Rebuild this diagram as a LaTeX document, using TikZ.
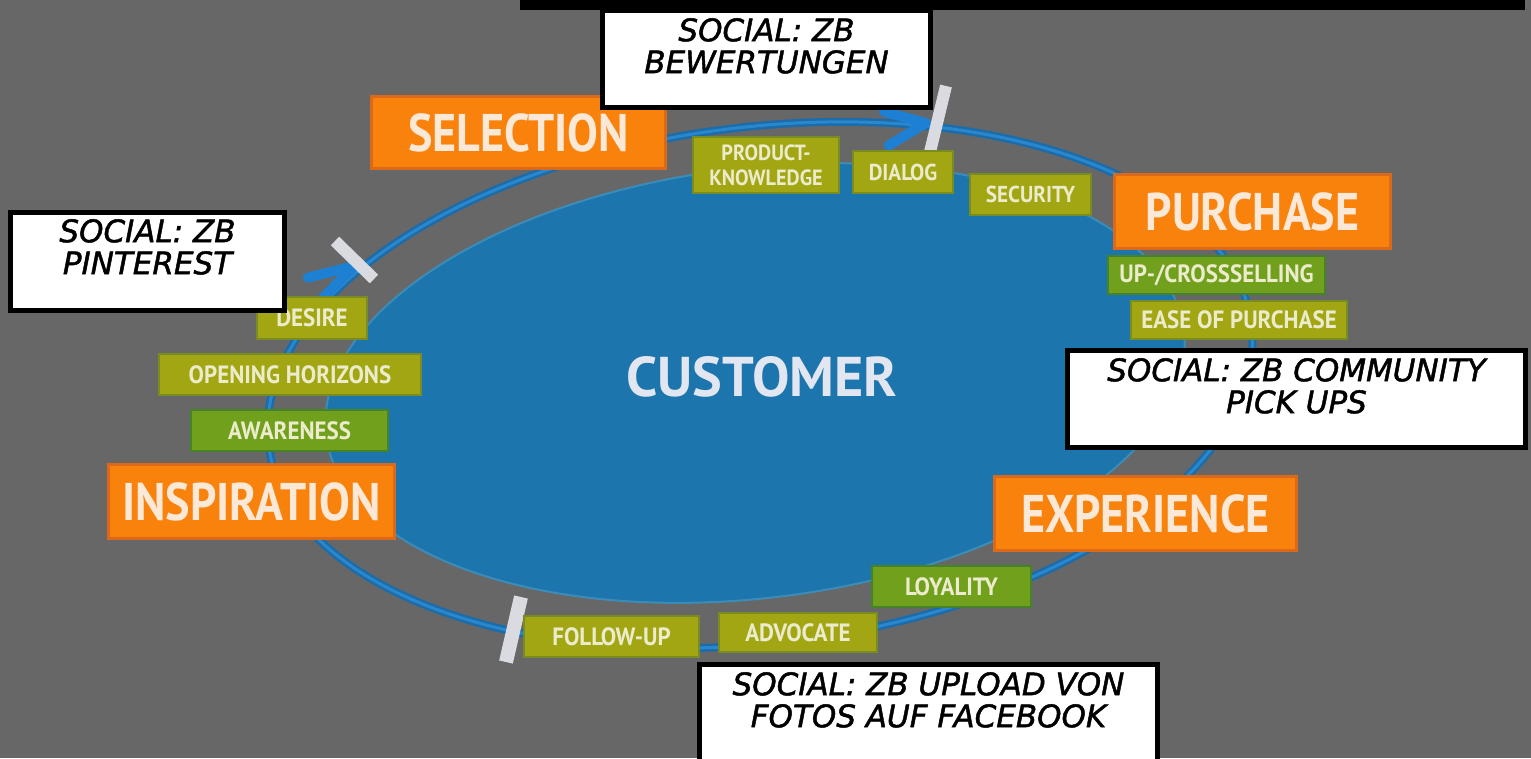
\documentclass[tikz,border=0pt]{standalone}
\usepackage{fontspec}
\usetikzlibrary{calc}
\setmainfont{PT Sans}
\newfontfamily\labfont[FakeStretch=0.92]{PT Sans}
\newfontfamily\phasefont[FakeStretch=0.87]{PT Sans}
\newfontfamily\custfont{PT Sans}
\newfontfamily\comicfont[FakeBold=1.5]{DejaVu Sans}
\definecolor{bg}{RGB}{103,103,103}
\definecolor{ellblue}{RGB}{29,117,173}
\definecolor{elledge}{RGB}{60,140,185}
\definecolor{ringdark}{RGB}{28,108,170}
\definecolor{ringlight}{RGB}{40,135,205}
\definecolor{chevblue}{RGB}{30,128,210}
\definecolor{orangebox}{RGB}{248,130,12}
\definecolor{orangeedge}{RGB}{220,105,25}
\definecolor{peach}{RGB}{252,232,215}
\definecolor{olive}{RGB}{162,166,18}
\definecolor{oliveedge}{RGB}{120,140,35}
\definecolor{greenbox}{RGB}{112,160,28}
\definecolor{greenedge}{RGB}{70,130,40}
\definecolor{cream}{RGB}{236,236,205}
\definecolor{custtext}{RGB}{226,230,240}
\definecolor{barwhite}{RGB}{218,218,225}
\tikzset{
  phase/.style={draw=orangeedge, line width=3pt, fill=orangebox, text=peach, inner sep=0pt,
    font=\phasefont\bfseries\fontsize{53}{53}\selectfont},
  sub/.style={draw=oliveedge, line width=2.5pt, fill=olive, text=cream, inner sep=0pt,
    font=\labfont\bfseries\fontsize{25}{27}\selectfont, align=center},
  subg/.style={sub, fill=greenbox, draw=greenedge},
  social/.style={draw=black, line width=5pt, fill=white, inner sep=0pt},
  socialtext/.style={font=\comicfont\itshape\fontsize{31}{32}\selectfont, align=center, inner sep=0pt, anchor=north, text=black},
  ringline/.style={line width=8pt, draw=ringdark},
  ringhi/.style={line width=3pt, draw=ringlight},
  chev/.style={line width=10pt, draw=chevblue, line cap=round, line join=round},
  whitebar/.style={line width=12pt, draw=barwhite},
}
\begin{document}
\begin{tikzpicture}[x=1pt,y=-1pt]
\useasboundingbox (0,0) rectangle (1531,758);
\clip (0,0) rectangle (1531,758);
\fill[bg] (0,0) rectangle (1531,758);
\fill[black] (520,0) rectangle (1525,10);

% outer ring
\coordinate (rc) at (760,385);
\draw[ringline, rotate around={7:(rc)}] (rc) ellipse [x radius=495, y radius=258];
\draw[ringhi, rotate around={7:(rc)}] (rc) ellipse [x radius=495, y radius=258];

% customer ellipse
\coordinate (ec) at (755,383);
\fill[ellblue, rotate around={7:(ec)}] (ec) ellipse [x radius=432, y radius=215];
\draw[elledge, line width=2pt, rotate around={7:(ec)}] (ec) ellipse [x radius=432, y radius=215];
\node[text=custtext, font=\custfont\bfseries\fontsize{56}{56}\selectfont, inner sep=0pt] (cust) at (762,377) {CUSTOMER};

% arrowheads
\coordinate (t1) at (926,123);
\begin{scope}[shift={(t1)}, rotate=8]
  \draw[chev] (-40,-17) -- (0,0) -- (-40,17);
\end{scope}
\coordinate (t2) at (354,266);
\begin{scope}[shift={(t2)}, rotate=30]
  \draw[chev] (-46,-13) -- (0,0) -- (-46,13);
\end{scope}

% white bars
\coordinate (b1a) at (946,86); \coordinate (b1b) at (930,152);
\draw[whitebar] (b1a) -- (b1b);
\coordinate (b2a) at (335,241); \coordinate (b2b) at (374,279);
\draw[whitebar] (b2a) -- (b2b);
\coordinate (b3a) at (521,597); \coordinate (b3b) at (506,662);
\draw[whitebar, line width=14pt] (b3a) -- (b3b);

% phases
\node[phase, minimum width=294, minimum height=72] (sel) at (518.5,132.5) {SELECTION};
\node[phase, minimum width=276, minimum height=74] (pur) at (1252.5,211.5) {PURCHASE};
\node[phase, minimum width=302, minimum height=74] (exp) at (1145.5,513.5) {EXPERIENCE};
\node[phase, minimum width=286, minimum height=74] (ins) at (251.5,501.5) {INSPIRATION};

% sub-steps
\node[sub, minimum width=146, minimum height=56, font=\labfont\bfseries\fontsize{22}{25}\selectfont] (pk) at (766,165) {PRODUCT-\\KNOWLEDGE};
\node[sub, minimum width=100, minimum height=42, font=\labfont\bfseries\fontsize{23}{25}\selectfont] (dia) at (903,172) {DIALOG};
\node[sub, minimum width=121, minimum height=41, font=\labfont\bfseries\fontsize{23}{25}\selectfont] (sec) at (1030.5,194.5) {SECURITY};
\node[subg, minimum width=217, minimum height=38] (ups) at (1216.5,275) {UP-/CROSSSELLING};
\node[sub, minimum width=216, minimum height=38] (eas) at (1239,320) {EASE OF PURCHASE};
\node[subg, minimum width=159, minimum height=41] (loy) at (951.5,586.5) {LOYALITY};
\node[sub, minimum width=158, minimum height=39] (adv) at (798,632.5) {ADVOCATE};
\node[sub, minimum width=175, minimum height=41] (fol) at (611.5,636.5) {FOLLOW-UP};
\node[subg, minimum width=197, minimum height=41] (awa) at (289.5,430.5) {AWARENESS};
\node[sub, minimum width=262, minimum height=41] (ope) at (290,374.5) {OPENING HORIZONS};
\node[sub, minimum width=110, minimum height=42] (des) at (312,318) {DESIRE};

% social notes
\node[social, minimum width=328, minimum height=97] (sbew) at (766.5,59) {};
\node[socialtext] (sbewt) at (766.5,18) {SOCIAL: ZB\\BEWERTUNGEN};
\node[social, minimum width=274, minimum height=98] (spin) at (147.5,261.5) {};
\node[socialtext] (spint) at (147.5,219) {SOCIAL: ZB\\PINTEREST};
\node[social, minimum width=458, minimum height=97] (scom) at (1296.5,399) {};
\node[socialtext] (scomt) at (1296.5,358) {SOCIAL: ZB COMMUNITY\\PICK UPS};
\node[social, minimum width=458, minimum height=103] (supl) at (928.5,716) {};
\node[socialtext] (suplt) at (928.5,672) {SOCIAL: ZB UPLOAD VON\\FOTOS AUF FACEBOOK};
\end{tikzpicture}
\end{document}
